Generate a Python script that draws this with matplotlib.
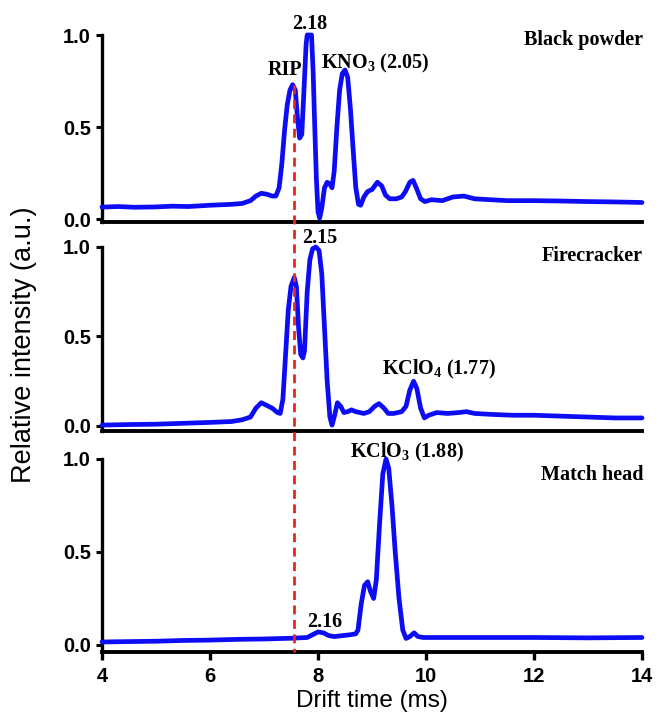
import matplotlib
matplotlib.use("Agg")
import matplotlib.pyplot as plt
from matplotlib.lines import Line2D

plt.rcParams['font.family'] = ['Liberation Sans', 'DejaVu Sans']
plt.rcParams['mathtext.fontset'] = 'custom'
plt.rcParams['mathtext.rm'] = 'Liberation Serif:bold'
plt.rcParams['mathtext.it'] = 'Liberation Serif:italic:bold'
plt.rcParams['mathtext.bf'] = 'Liberation Serif:bold'

# ---------------- data ----------------
bp_t = [4.0, 4.3, 4.6, 5.0, 5.3, 5.6, 6.0, 6.4, 6.6, 6.75, 6.85, 6.95, 7.05, 7.15, 7.22, 7.28,
        7.33, 7.38, 7.43, 7.48, 7.53, 7.58, 7.62, 7.66, 7.70, 7.74, 7.78, 7.80, 7.88,
        7.91, 7.94, 7.97, 8.00, 8.03, 8.07, 8.12, 8.17, 8.22, 8.26, 8.30, 8.35, 8.40,
        8.45, 8.50, 8.55, 8.60, 8.65, 8.70, 8.75, 8.79, 8.85, 8.92, 9.00, 9.10, 9.18,
        9.25, 9.33, 9.45, 9.55, 9.62, 9.70, 9.76, 9.82, 9.90, 9.98, 10.1, 10.3, 10.5,
        10.7, 10.9, 11.2, 11.5, 12.0, 12.5, 13.0, 13.5, 14.0]
bp_i = [0.065, 0.068, 0.064, 0.066, 0.070, 0.068, 0.075, 0.080, 0.085, 0.10, 0.125, 0.14, 0.135, 0.125, 0.125, 0.17,
        0.30, 0.48, 0.62, 0.70, 0.73, 0.70, 0.55, 0.44, 0.46, 0.70, 0.95, 1.0, 1.0,
        0.80, 0.50, 0.22, 0.04, 0.005, 0.06, 0.17, 0.20, 0.19, 0.17, 0.26, 0.50, 0.70,
        0.79, 0.81, 0.77, 0.60, 0.38, 0.17, 0.08, 0.075, 0.12, 0.15, 0.16, 0.20, 0.18,
        0.13, 0.11, 0.11, 0.12, 0.15, 0.20, 0.21, 0.17, 0.11, 0.095, 0.105, 0.10, 0.12,
        0.125, 0.11, 0.105, 0.10, 0.10, 0.098, 0.095, 0.093, 0.09]

fc_t = [4.0, 4.5, 5.0, 5.5, 6.0, 6.4, 6.6, 6.75, 6.85, 6.95, 7.05, 7.15, 7.25, 7.30,
        7.35, 7.40, 7.45, 7.50, 7.56, 7.60, 7.64, 7.68, 7.72, 7.75, 7.80, 7.85, 7.90,
        7.96, 8.02, 8.07, 8.12, 8.17, 8.22, 8.26, 8.30, 8.36, 8.42, 8.48, 8.55, 8.62,
        8.70, 8.85, 8.95, 9.05, 9.13, 9.22, 9.30, 9.40, 9.55, 9.63, 9.70, 9.77, 9.83,
        9.90, 9.97, 10.05, 10.2, 10.4, 10.6, 10.75, 10.9, 11.2, 11.6, 12.0, 12.5, 13.0,
        13.5, 14.0]
fc_i = [0.005, 0.008, 0.010, 0.015, 0.020, 0.025, 0.035, 0.05, 0.10, 0.13, 0.115, 0.10, 0.075, 0.07,
        0.15, 0.40, 0.65, 0.78, 0.83, 0.78, 0.55, 0.40, 0.38, 0.42, 0.75, 0.93, 0.99,
        1.0, 0.98, 0.85, 0.55, 0.25, 0.05, 0.005, 0.05, 0.13, 0.11, 0.075, 0.08, 0.09,
        0.08, 0.07, 0.08, 0.11, 0.125, 0.10, 0.07, 0.07, 0.08, 0.11, 0.20, 0.25, 0.21,
        0.10, 0.045, 0.06, 0.075, 0.07, 0.075, 0.08, 0.07, 0.065, 0.06, 0.06, 0.055, 0.05,
        0.045, 0.045]

mh_t = [4.0, 4.5, 5.0, 5.5, 6.0, 6.5, 7.0, 7.5, 7.8, 7.9, 8.0, 8.1, 8.2, 8.3, 8.45,
        8.6, 8.7, 8.74, 8.80, 8.86, 8.92, 8.97, 9.03, 9.08, 9.14, 9.20, 9.26, 9.31,
        9.37, 9.43, 9.50, 9.57, 9.63, 9.70, 9.78, 9.85, 9.95, 10.5, 11.0, 12.0, 13.0, 14.0]
mh_i = [0.016, 0.018, 0.020, 0.024, 0.026, 0.030, 0.032, 0.036, 0.040, 0.055, 0.070, 0.065, 0.050, 0.045, 0.050,
        0.055, 0.060, 0.08, 0.22, 0.32, 0.34, 0.29, 0.25, 0.35, 0.65, 0.92, 1.0, 0.95,
        0.75, 0.50, 0.25, 0.08, 0.035, 0.045, 0.065, 0.045, 0.040, 0.040, 0.040, 0.040, 0.038, 0.040]

x_ticks = [4, 6, 8, 10, 12, 14]
y_ticks = [0.0, 0.5, 1.0]
y_tick_labels = ['0.0', '0.5', '1.0']
rip_time = 7.55
rip_top = 0.73

# ---------------- figure ----------------
W, H = 658, 713
fig = plt.figure(figsize=(W / 100, H / 100), dpi=100)

def px_axes(top, bottom, left=102, right=642):
    return [left / W, (H - bottom) / H, (right - left) / W, (bottom - top) / H]

ax1 = fig.add_axes(px_axes(35, 222))
ax2 = fig.add_axes(px_axes(247, 431))
ax3 = fig.add_axes(px_axes(459, 652))
axes = [ax1, ax2, ax3]
ylims = [(-0.016, 1.0), (-0.028, 1.0), (-0.038, 1.0)]
series = [(bp_t, bp_i), (fc_t, fc_i), (mh_t, mh_i)]

blue = '#0c0cf5'
for ax, (t, i), yl in zip(axes, series, ylims):
    ax.plot(t, i, color=blue, lw=3.4, solid_joinstyle='round', solid_capstyle='round',
            clip_on=False, zorder=3)
    ax.set_xlim(4, 14)
    ax.set_ylim(*yl)
    ax.set_yticks(y_ticks)
    ax.set_yticklabels(y_tick_labels)
    for s in ['top', 'right']:
        ax.spines[s].set_visible(False)
    ax.spines['left'].set_linewidth(2.4)
    ax.spines['bottom'].set_linewidth(2.8)
    ax.tick_params(axis='y', direction='out', length=4, width=2.2, pad=4,
                   labelsize=14.5)
    ax.set_xticks(x_ticks)
    for lab in ax.get_yticklabels():
        lab.set_fontweight('bold')

for ax in (ax1, ax2):
    ax.tick_params(axis='x', bottom=False, labelbottom=False)
ax3.tick_params(axis='x', direction='out', length=6, width=2.4, pad=5, labelsize=14.5)
for lab in ax3.get_xticklabels():
    lab.set_fontweight('bold')

ax3.set_xlabel('Drift time (ms)', fontsize=17.5, labelpad=3)
fig.text(24 / W, 1 - 345 / H, 'Relative intensity (a.u.)', rotation=90,
         fontsize=19.5, ha='center', va='center')

# annotations
serif = dict(family='Liberation Serif', fontweight='bold', fontsize=14.5)
ax1.text(14.02, 0.946, 'Black powder', ha='right', va='baseline', **serif)
ax1.text(7.06, 0.783, 'RIP', ha='left', va='baseline', **serif)
ax1.text(7.52, 1.033, '2.18', ha='left', va='baseline', **serif)
ax1.text(8.06, 0.82, r'KNO$_\mathrm{3}$ (2.05)', ha='left', va='baseline', **serif)
ax2.text(14.02, 0.922, 'Firecracker', ha='right', va='baseline', **serif)
ax2.text(7.70, 1.022, '2.15', ha='left', va='baseline', **serif)
ax2.text(9.185, 0.285, r'KClO$_\mathrm{4}$ (1.77)', ha='left', va='baseline', **serif)
ax3.text(14.02, 0.887, 'Match head', ha='right', va='baseline', **serif)
ax3.text(8.59, 1.01, r'KClO$_\mathrm{3}$ (1.88)', ha='left', va='baseline', **serif)
ax3.text(7.80, 0.097, '2.16', ha='left', va='baseline', **serif)

# red dashed RIP line through all panels
inv = fig.transFigure.inverted()
p_top = inv.transform(ax1.transData.transform((rip_time, rip_top)))
p_bot = inv.transform(ax3.transData.transform((rip_time, ylims[2][0])))
fig.add_artist(Line2D([p_top[0], p_bot[0]], [p_top[1], p_bot[1]], transform=fig.transFigure,
                      color='#e8261c', lw=2.0, linestyle=(0, (3.2, 2.0)), zorder=5))

fig.savefig('out.png', dpi=100)
